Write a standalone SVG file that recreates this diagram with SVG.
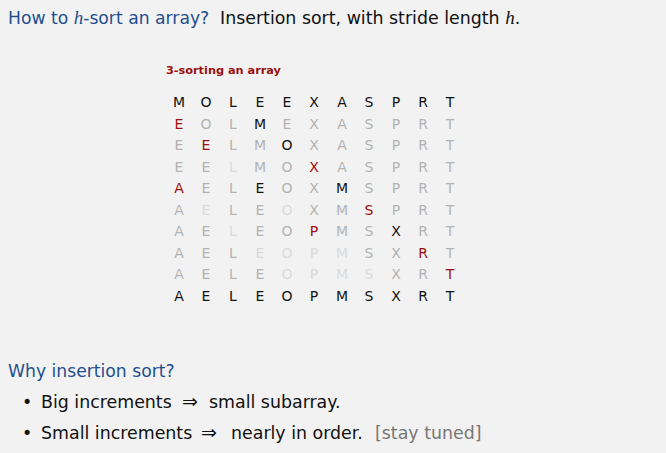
<svg xmlns="http://www.w3.org/2000/svg" width="666" height="453" viewBox="0 0 666 453">
  <style>
    .sans { font-family: "DejaVu Sans", "Liberation Sans", sans-serif; }
    .head { font-size: 17.2px; fill: #1f4f8f; }
    .body { font-size: 17.4px; fill: #111; }
    .arrow { font-size: 19px; }
    .ital { font-family: "Liberation Serif", serif; font-style: italic; font-size: 19px; }
    .cap { font-size: 11.3px; font-weight: bold; fill: #9a1010; }
    .grid text { font-family: "DejaVu Sans", "Liberation Sans", sans-serif; font-size: 14px; text-anchor: middle; }
    .k { fill: #111; }
    .r { fill: #a00d0d; }
    .g { fill: #b2b2b2; }
    .l { fill: #dadada; }
    .dim { fill: #777; }
  </style>
  <rect width="666" height="453" fill="#f2f2f2"/>

  <!-- heading -->
  <g id="title">
    <text class="sans head" x="8" y="24">How to <tspan class="ital">h</tspan>-sort an array?</text>
    <text class="sans body" x="220" y="24">Insertion sort, with stride length <tspan class="ital">h</tspan>.</text>
  </g>

  <!-- trace of 3-sorting -->
  <g id="trace">
    <text class="sans cap" x="166" y="74">3-sorting an array</text>
    <g class="grid">
      <g id="row0" transform="translate(0,107)">
        <text class="k" x="179">M</text><text class="k" x="206">O</text><text class="k" x="233">L</text><text class="k" x="260">E</text><text class="k" x="287">E</text><text class="k" x="314">X</text><text class="k" x="342">A</text><text class="k" x="369">S</text><text class="k" x="396">P</text><text class="k" x="423">R</text><text class="k" x="450">T</text>
      </g>
      <g id="row1" transform="translate(0,128.5)">
        <text class="r" x="179">E</text><text class="g" x="206">O</text><text class="g" x="233">L</text><text class="k" x="260">M</text><text class="g" x="287">E</text><text class="g" x="314">X</text><text class="g" x="342">A</text><text class="g" x="369">S</text><text class="g" x="396">P</text><text class="g" x="423">R</text><text class="g" x="450">T</text>
      </g>
      <g id="row2" transform="translate(0,150)">
        <text class="g" x="179">E</text><text class="r" x="206">E</text><text class="g" x="233">L</text><text class="g" x="260">M</text><text class="k" x="287">O</text><text class="g" x="314">X</text><text class="g" x="342">A</text><text class="g" x="369">S</text><text class="g" x="396">P</text><text class="g" x="423">R</text><text class="g" x="450">T</text>
      </g>
      <g id="row3" transform="translate(0,171.5)">
        <text class="g" x="179">E</text><text class="g" x="206">E</text><text class="l" x="233">L</text><text class="g" x="260">M</text><text class="g" x="287">O</text><text class="r" x="314">X</text><text class="g" x="342">A</text><text class="g" x="369">S</text><text class="g" x="396">P</text><text class="g" x="423">R</text><text class="g" x="450">T</text>
      </g>
      <g id="row4" transform="translate(0,193)">
        <text class="r" x="179">A</text><text class="g" x="206">E</text><text class="g" x="233">L</text><text class="k" x="260">E</text><text class="g" x="287">O</text><text class="g" x="314">X</text><text class="k" x="342">M</text><text class="g" x="369">S</text><text class="g" x="396">P</text><text class="g" x="423">R</text><text class="g" x="450">T</text>
      </g>
      <g id="row5" transform="translate(0,214.5)">
        <text class="g" x="179">A</text><text class="l" x="206">E</text><text class="g" x="233">L</text><text class="g" x="260">E</text><text class="l" x="287">O</text><text class="g" x="314">X</text><text class="g" x="342">M</text><text class="r" x="369">S</text><text class="g" x="396">P</text><text class="g" x="423">R</text><text class="g" x="450">T</text>
      </g>
      <g id="row6" transform="translate(0,236)">
        <text class="g" x="179">A</text><text class="g" x="206">E</text><text class="l" x="233">L</text><text class="g" x="260">E</text><text class="g" x="287">O</text><text class="r" x="314">P</text><text class="g" x="342">M</text><text class="g" x="369">S</text><text class="k" x="396">X</text><text class="g" x="423">R</text><text class="g" x="450">T</text>
      </g>
      <g id="row7" transform="translate(0,257.5)">
        <text class="g" x="179">A</text><text class="g" x="206">E</text><text class="g" x="233">L</text><text class="l" x="260">E</text><text class="l" x="287">O</text><text class="l" x="314">P</text><text class="l" x="342">M</text><text class="g" x="369">S</text><text class="g" x="396">X</text><text class="r" x="423">R</text><text class="g" x="450">T</text>
      </g>
      <g id="row8" transform="translate(0,279)">
        <text class="g" x="179">A</text><text class="g" x="206">E</text><text class="g" x="233">L</text><text class="g" x="260">E</text><text class="l" x="287">O</text><text class="l" x="314">P</text><text class="l" x="342">M</text><text class="l" x="369">S</text><text class="g" x="396">X</text><text class="g" x="423">R</text><text class="r" x="450">T</text>
      </g>
      <g id="row9" transform="translate(0,300.5)">
        <text class="k" x="179">A</text><text class="k" x="206">E</text><text class="k" x="233">L</text><text class="k" x="260">E</text><text class="k" x="287">O</text><text class="k" x="314">P</text><text class="k" x="342">M</text><text class="k" x="369">S</text><text class="k" x="396">X</text><text class="k" x="423">R</text><text class="k" x="450">T</text>
      </g>
    </g>
  </g>

  <!-- rationale -->
  <g id="why">
    <text class="sans head" x="8" y="377">Why insertion sort?</text>
    <text class="sans body" x="22" y="408" font-size="14">•</text>
    <text class="sans body" x="41" y="408">Big increments</text>
    <text class="sans body arrow" x="182" y="408">⇒</text>
    <text class="sans body" x="209" y="408">small subarray.</text>
    <text class="sans body" x="22" y="439" font-size="14">•</text>
    <text class="sans body" x="41" y="439">Small increments</text>
    <text class="sans body arrow" x="201" y="439">⇒</text>
    <text class="sans body" x="231" y="439">nearly in order.</text>
    <text class="sans body dim" x="375" y="439">[stay tuned]</text>
  </g>
</svg>
